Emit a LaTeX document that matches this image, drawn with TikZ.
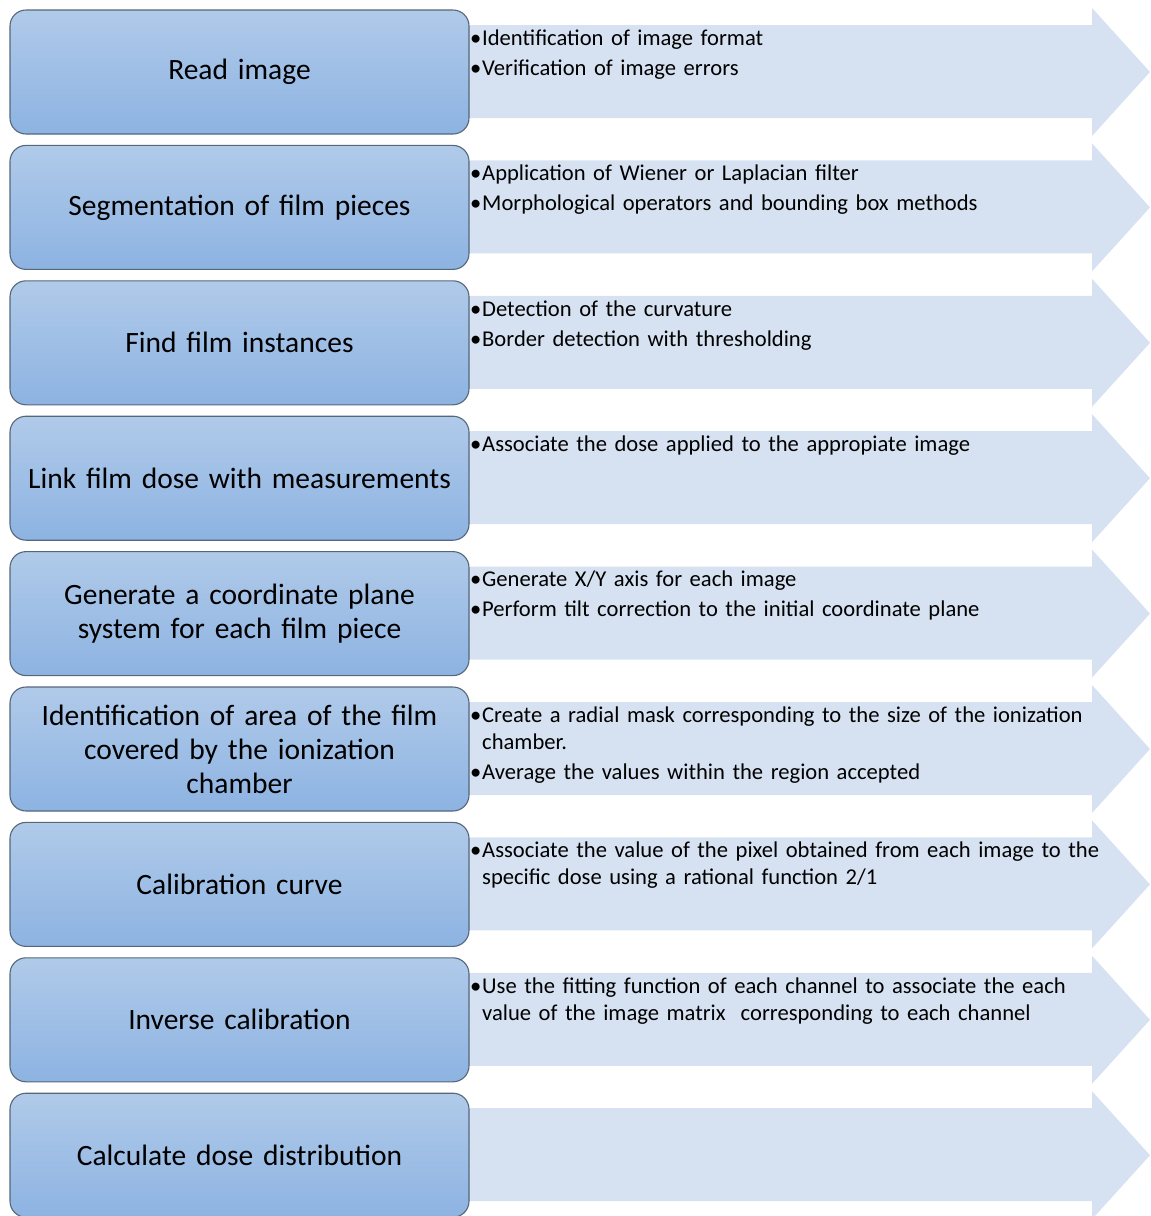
\documentclass[tikz,border=0pt]{standalone}
\usepackage{fontspec}
\setmainfont{Carlito}
\definecolor{arrowfill}{HTML}{D6E2F2}
\definecolor{boxtop}{HTML}{B0CAE9}
\definecolor{boxbot}{HTML}{8DB3E2}
\definecolor{boxline}{HTML}{56677A}
\newlength{\bulw}\setlength{\bulw}{12pt}
\newcommand{\bitem}[1]{\par\hangindent=\bulw\hangafter=1\noindent\makebox[\bulw][l]{\textbullet}#1\par}
\tikzset{
  stepbox/.style={draw=boxline, line width=1.1pt, rounded corners=16pt,
    top color=boxtop, bottom color=boxbot, minimum width=459pt, minimum height=124pt,
    text width=450pt, align=center, inner sep=0pt,
    font=\fontsize{29.5}{34}\selectfont},
  desc/.style={anchor=north west, text width=670pt, inner sep=0pt,
    font=\fontsize{22.6}{27}\selectfont\raggedright\setlength{\parskip}{3pt}},
  bigarrow/.style={fill=arrowfill, draw=none}
}
\begin{document}
\begin{tikzpicture}[x=1pt,y=-1pt]
\useasboundingbox (0,0) rectangle (1151,1216);
\fill[white] (0,0) rectangle (1151,1216);
% arrows
\foreach \k in {0,...,8}{
  \pgfmathsetmacro{\t}{10+135.4*\k}
  \fill[bigarrow] (240,\t+15) -- (1092,\t+15) -- (1092,\t-2) -- (1150,\t+62)
     -- (1092,\t+126) -- (1092,\t+108) -- (240,\t+108) -- cycle;
}
% boxes
\node[stepbox] (b1) at (239.5,72) {Read image};
\node[stepbox] (b2) at (239.5,207.4) {Segmentation of film pieces};
\node[stepbox] (b3) at (239.5,342.8) {Find film instances};
\node[stepbox] (b4) at (239.5,478.2) {Link film dose with measurements};
\node[stepbox] (b5) at (239.5,613.6) {Generate a coordinate plane\\system for each film piece};
\node[stepbox] (b6) at (239.5,749) {Identification of area of the film\\covered by the ionization\\chamber};
\node[stepbox] (b7) at (239.5,884.4) {Calibration curve};
\node[stepbox] (b8) at (239.5,1019.8) {Inverse calibration};
\node[stepbox] (b9) at (239.5,1155.2) {Calculate dose distribution};
% descriptions
\node[desc] (d1) at (470,15) {\bitem{Identification of image format}\bitem{Verification of image errors}};
\node[desc] (d2) at (470,150.4) {\bitem{Application of Wiener or Laplacian filter}\bitem{Morphological operators and bounding box methods}};
\node[desc] (d3) at (470,285.8) {\bitem{Detection of the curvature}\bitem{Border detection with thresholding}};
\node[desc] (d4) at (470,421.2) {\bitem{Associate the dose applied to the appropiate image}};
\node[desc] (d5) at (470,556.6) {\bitem{Generate X/Y axis for each image}\bitem{Perform tilt correction to the initial coordinate plane}};
\node[desc] (d6) at (470,692) {\bitem{Create a radial mask corresponding to the size of the ionization\newline chamber.}\bitem{Average the values within the region accepted}};
\node[desc] (d7) at (470,827.4) {\bitem{Associate the value of the pixel obtained from each image to the\newline specific dose using a rational function 2/1}};
\node[desc] (d8) at (470,962.8) {\bitem{Use the fitting function of each channel to associate the each\newline value of the image matrix\ \ corresponding to each channel}};
\end{tikzpicture}
\end{document}
